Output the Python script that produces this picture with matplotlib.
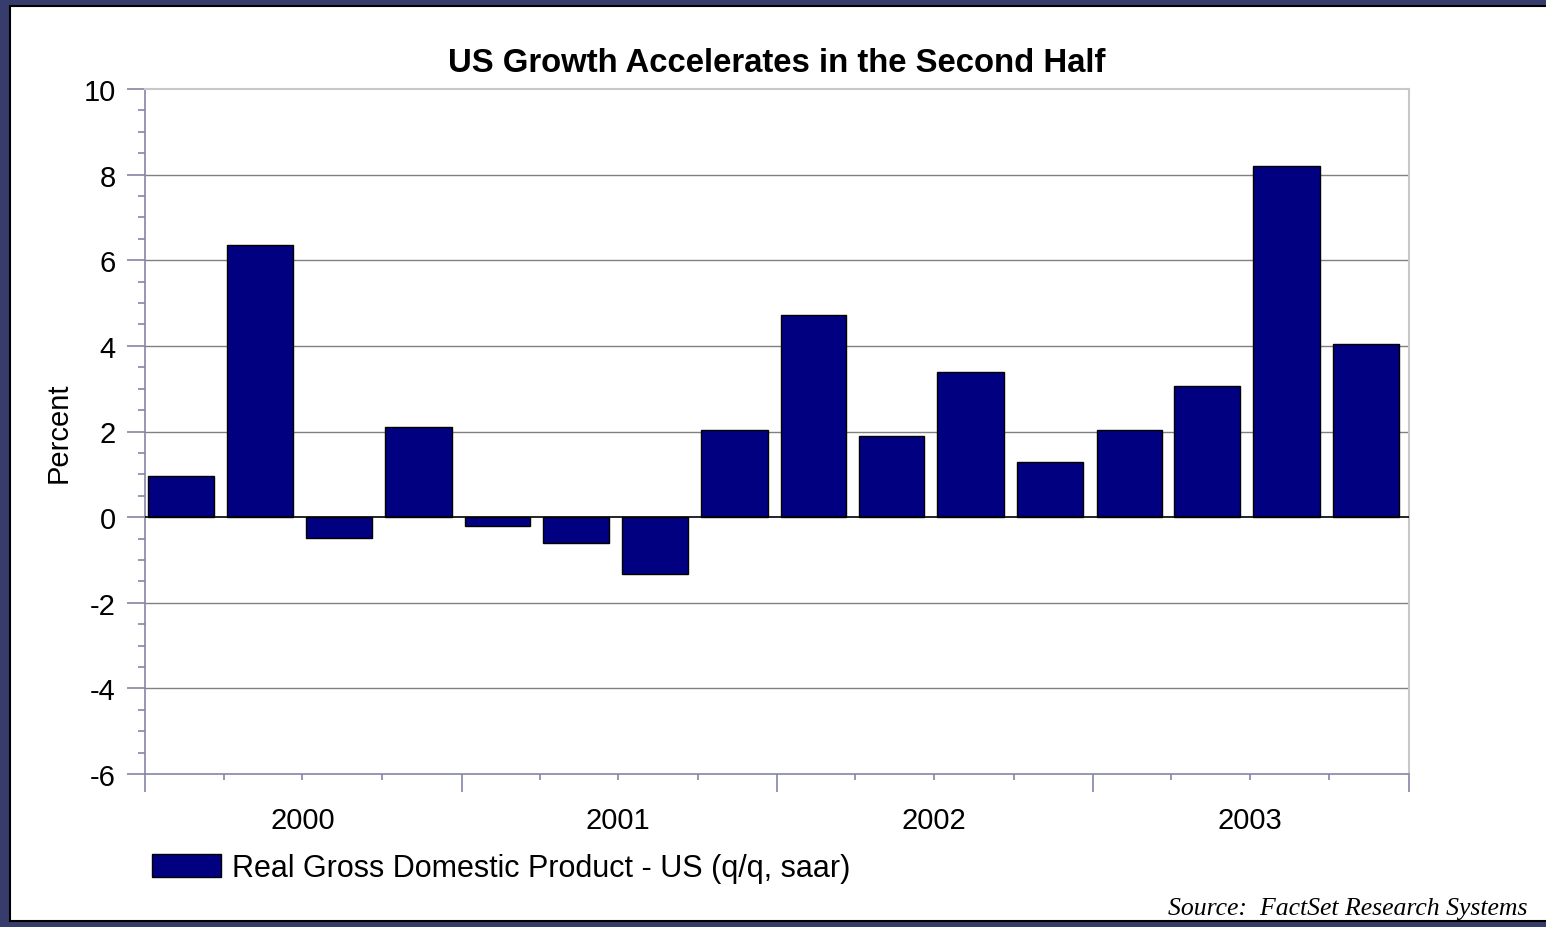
import matplotlib
matplotlib.use("Agg")
import matplotlib.pyplot as plt
import matplotlib.dates as mdates
import matplotlib.transforms as mtransforms
from matplotlib.patches import Rectangle, Patch
from matplotlib.ticker import MultipleLocator
import datetime as dt

# --- Data: real GDP growth, q/q saar, by quarter ---
quarters = ["2000Q1", "2000Q2", "2000Q3", "2000Q4",
            "2001Q1", "2001Q2", "2001Q3", "2001Q4",
            "2002Q1", "2002Q2", "2002Q3", "2002Q4",
            "2003Q1", "2003Q2", "2003Q3", "2003Q4"]
gdp_growth = [0.96, 6.36, -0.49, 2.10,
              -0.21, -0.61, -1.33, 2.03,
              4.72, 1.89, 3.39, 1.29,
              2.03, 3.06, 8.20, 4.04]
year_labels = ["2000", "2001", "2002", "2003"]

title = "US Growth Accelerates in the Second Half"
series_name = "Real Gross Domestic Product - US (q/q, saar)"
source_text = "Source:  FactSet Research Systems"

plt.rcParams['font.family'] = ['Liberation Sans', 'DejaVu Sans']
plt.rcParams['axes.unicode_minus'] = False

bar_color = "#000080"
axis_color = "#8585a5"


def quarter_span(q):
    year, n = int(q[:4]), int(q[-1])
    start = dt.date(year, 3 * (n - 1) + 1, 1)
    end = dt.date(year + 1, 1, 1) if n == 4 else dt.date(year, 3 * n + 1, 1)
    return mdates.date2num(start), mdates.date2num(end)


# bars sit a little left of mid-quarter, as in the source chart
centers, widths = [], []
for q in quarters:
    s, e = quarter_span(q)
    centers.append(s + (e - s) * 0.46)
    widths.append((e - s) * 0.835)

fig = plt.figure(figsize=(15.46, 9.28), dpi=100)
fig.patch.set_facecolor("#363d6c")

# white slide panel (behind the axes)
panel = Rectangle((10 / 1546, 6 / 928), 1.0, 1 - 13 / 928,
                  transform=fig.transFigure, facecolor="white",
                  edgecolor="black", linewidth=1.5, zorder=-10)
fig.patches.append(panel)

ax = fig.add_axes([145 / 1546, 1 - 775 / 928, 1264 / 1546, 685 / 928])
ax.set_zorder(5)
ax.set_facecolor("white")

# gridlines
for yv in [-4, -2, 2, 4, 6, 8]:
    ax.axhline(yv, color="#808080", linewidth=1.0, zorder=1)

ax.bar(centers, gdp_growth, width=widths, color=bar_color,
       edgecolor="black", linewidth=1.0, zorder=2)
ax.axhline(0, color="black", linewidth=1.2, zorder=3)

x0 = mdates.date2num(dt.date(2000, 1, 1))
x1 = mdates.date2num(dt.date(2004, 1, 1))
ax.set_xlim(x0, x1)
ax.set_ylim(-6, 10)

# y axis
ax.yaxis.set_major_locator(MultipleLocator(2))
ax.yaxis.set_minor_locator(MultipleLocator(0.5))
ax.tick_params(axis="y", which="major", length=13, width=1.2, color=axis_color,
               labelsize=21, pad=8)
ax.tick_params(axis="y", which="minor", length=5, width=1.2, color=axis_color)
ax.set_ylabel("Percent", fontsize=21, labelpad=8)

# x axis: year boundaries long ticks, quarter ticks short
ax.xaxis.set_major_locator(mdates.YearLocator())
ax.xaxis.set_minor_locator(mdates.MonthLocator(bymonth=[4, 7, 10]))
ax.xaxis.set_major_formatter(plt.NullFormatter())
ax.tick_params(axis="x", which="major", length=12.7, width=1.2, color=axis_color)
ax.tick_params(axis="x", which="minor", length=4.5, width=1.2, color=axis_color)

trans = mtransforms.blended_transform_factory(ax.transData, ax.transAxes)
for lab in year_labels:
    xm = mdates.date2num(dt.date(int(lab), 7, 1))
    ax.text(xm, -0.067, lab, transform=trans, ha="center", va="center",
            fontsize=21)

for side in ["left", "bottom"]:
    ax.spines[side].set_color(axis_color)
    ax.spines[side].set_linewidth(1.2)
for side in ["top", "right"]:
    ax.spines[side].set_color("#c8c8c8")
    ax.spines[side].set_linewidth(1.5)

fig.text(777 / 1546, 1 - 64 / 928, title, ha="center", va="center",
         fontsize=23.7, fontweight="bold")

handle = Patch(facecolor=bar_color, edgecolor="black", linewidth=1.0)
fig.legend([handle], [series_name], loc="center left",
           bbox_to_anchor=(152 / 1546, 1 - 869 / 928), frameon=False,
           fontsize=22, handlelength=2.26, handleheight=0.8,
           handletextpad=0.36, borderaxespad=0, borderpad=0)

fig.text(1528 / 1546, 1 - 909 / 928, source_text, ha="right", va="center",
         fontsize=18.5, style="italic", family=["Liberation Serif", "DejaVu Serif"])

fig.savefig("out.png", dpi=100, facecolor=fig.get_facecolor())
